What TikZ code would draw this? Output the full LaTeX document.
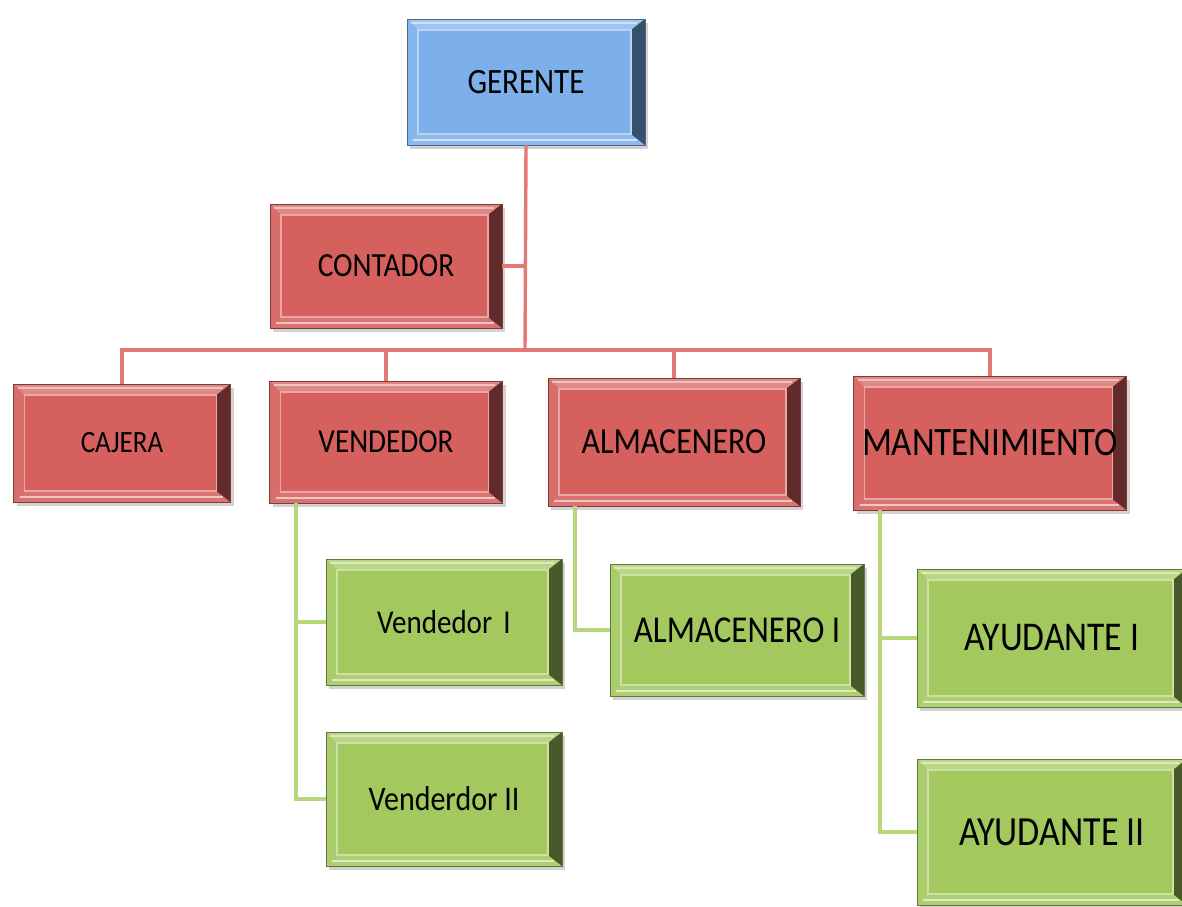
\documentclass[tikz,border=0pt]{standalone}
\usepackage{fontspec}
\usepackage{graphicx}
\setmainfont{Carlito}
\usetikzlibrary{shadows,calc}
\definecolor{bluef}{RGB}{125,176,234}
\definecolor{redf}{RGB}{214,96,93}
\definecolor{greenf}{RGB}{163,200,94}
\definecolor{redl}{RGB}{228,120,118}
\definecolor{greenl}{RGB}{184,214,124}
\newcommand\tallt[1]{\scalebox{1}[1.15]{#1}}
\tikzset{
  bevel/.style={rectangle, fill=#1, draw=#1!60!black, line width=0.6pt,
    text=black, inner sep=0pt, align=center,
    drop shadow={shadow xshift=3pt, shadow yshift=-4pt, opacity=0.35},
    path picture={
      \coordinate (nw) at (path picture bounding box.north west);
      \coordinate (ne) at (path picture bounding box.north east);
      \coordinate (sw) at (path picture bounding box.south west);
      \coordinate (se) at (path picture bounding box.south east);
      \fill[#1!75!white] (nw) -- (ne) -- ($(ne)+(-14pt,-11pt)$) -- ($(nw)+(11pt,-11pt)$) -- cycle;
      \fill[#1!88!white] (sw) -- (se) -- ($(se)+(-14pt,11pt)$) -- ($(sw)+(11pt,11pt)$) -- cycle;
      \fill[#1!92!white] (nw) -- (sw) -- ($(sw)+(11pt,11pt)$) -- ($(nw)+(11pt,-11pt)$) -- cycle;
      \fill[#1!45!black] (ne) -- (se) -- ($(se)+(-14pt,11pt)$) -- ($(ne)+(-14pt,-11pt)$) -- cycle;
      \draw[#1!55!white, line width=1.2pt] ($(nw)+(11pt,-11pt)$) rectangle ($(se)+(-14pt,11pt)$);
      \draw[white, opacity=0.6, line width=1.5pt] ($(sw)+(6pt,5pt)$) -- ($(se)+(-8pt,5pt)$);
      \draw[white, opacity=0.5, line width=1.5pt] ($(nw)+(4pt,-4pt)$) -- ($(ne)+(-8pt,-4pt)$);
    }},
  blue box/.style={bevel=bluef},
  red box/.style={bevel=redf},
  green box/.style={bevel=greenf},
  redline/.style={draw=redl, line width=3.4pt},
  greenline/.style={draw=greenl, line width=3.4pt},
}
\begin{document}
\begin{tikzpicture}[x=1pt,y=-1pt]
\useasboundingbox[fill=white] (0,0) rectangle (1182,906);
\coordinate (bus) at (525,350);
\coordinate (vx) at (296,0);
\coordinate (ax) at (575,0);
\coordinate (mx) at (880,0);

\node[blue box, minimum width=238pt, minimum height=126pt, font=\fontsize{31}{33}\selectfont] (ger) at (526,82) {\tallt{GERENTE}};
\node[red box, minimum width=232pt, minimum height=124pt, font=\fontsize{29.4}{31}\selectfont] (con) at (386,266) {\tallt{CONTADOR}};
\node[red box, minimum width=217pt, minimum height=118pt, font=\fontsize{27}{29}\selectfont] (caj) at (122,443) {\tallt{CAJERA}};
\node[red box, minimum width=233pt, minimum height=122pt, font=\fontsize{29.2}{31}\selectfont] (ven) at (386,442) {\tallt{VENDEDOR}};
\node[red box, minimum width=252pt, minimum height=128pt, font=\fontsize{32}{34}\selectfont] (alm) at (674,442) {\tallt{ALMACENERO}};
\node[red box, minimum width=273pt, minimum height=134pt, font=\fontsize{35}{37}\selectfont] (man) at (990,443) {\tallt{MANTENIMIENTO}};
\node[green box, minimum width=236pt, minimum height=126pt, font=\fontsize{29}{31}\selectfont] (v1) at (444,622) {\tallt{Vendedor\, I}};
\node[green box, minimum width=236pt, minimum height=134pt, font=\fontsize{30}{32}\selectfont] (v2) at (444,799) {\tallt{Venderdor II}};
\node[green box, minimum width=254pt, minimum height=132pt, font=\fontsize{33}{35}\selectfont] (a1) at (737,630) {\tallt{ALMACENERO I}};
\node[green box, minimum width=270pt, minimum height=138pt, font=\fontsize{35.5}{37}\selectfont] (y1) at (1052,638) {\tallt{AYUDANTE I}};
\node[green box, minimum width=270pt, minimum height=146pt, font=\fontsize{36}{38}\selectfont] (y2) at (1052,832) {\tallt{AYUDANTE II}};

\draw[redline] (ger.south) -- (bus);
\draw[redline] (con.east) -- (con.east -| bus);
\draw[redline] (caj.north) |- (man.north |- bus) -- (man.north);
\draw[redline] (ven.north) -- (ven.north |- bus);
\draw[redline] (alm.north) -- (alm.north |- bus);
\draw[greenline] (vx |- ven.south) |- (v2.west);
\draw[greenline] (vx |- v1.west) -- (v1.west);
\draw[greenline] (ax |- alm.south) |- (a1.west);
\draw[greenline] (mx |- man.south) |- (y2.west);
\draw[greenline] (mx |- y1.west) -- (y1.west);
\end{tikzpicture}
\end{document}
